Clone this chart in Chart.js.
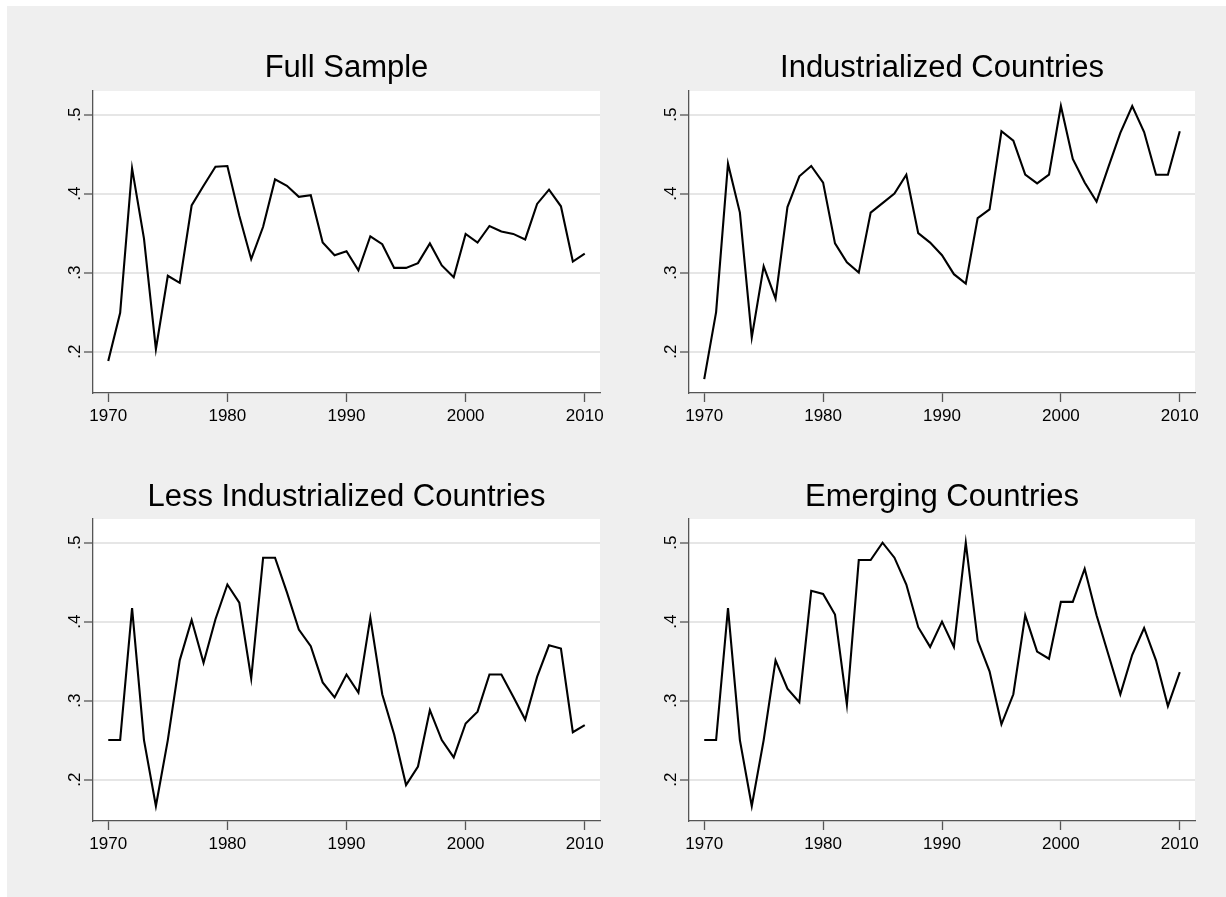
<!DOCTYPE html>
<html>
<head>
<meta charset="utf-8">
<script src="https://cdn.jsdelivr.net/npm/chart.js@4.4.1/dist/chart.umd.min.js"></script>
<style>
  html, body { margin: 0; padding: 0; background: #fff; }
  #frame { position: absolute; left: 7px; top: 6px; width: 1219px; height: 891px; background: #efefef; }
  canvas { position: absolute; }
</style>
</head>
<body>
<div id="frame"></div>
<canvas id="c1" width="570" height="403" style="left:43px;top:30px;width:570px;height:403px"></canvas>
<canvas id="c2" width="570" height="403" style="left:639px;top:30px;width:570px;height:403px"></canvas>
<canvas id="c3" width="570" height="401" style="left:43px;top:460px;width:570px;height:401px"></canvas>
<canvas id="c4" width="570" height="401" style="left:639px;top:460px;width:570px;height:401px"></canvas>
<script>
// Data
const years = [1970, 1971, 1972, 1973, 1974, 1975, 1976, 1977, 1978, 1979,
               1980, 1981, 1982, 1983, 1984, 1985, 1986, 1987, 1988, 1989,
               1990, 1991, 1992, 1993, 1994, 1995, 1996, 1997, 1998, 1999,
               2000, 2001, 2002, 2003, 2004, 2005, 2006, 2007, 2008, 2009, 2010];

const fullSample = [0.188, 0.249, 0.432, 0.343, 0.203, 0.296, 0.287, 0.385, 0.410, 0.434,
                    0.435, 0.372, 0.317, 0.358, 0.418, 0.410, 0.396, 0.398, 0.338, 0.322,
                    0.327, 0.303, 0.346, 0.336, 0.306, 0.306, 0.312, 0.337, 0.309, 0.294,
                    0.349, 0.338, 0.359, 0.352, 0.349, 0.342, 0.387, 0.405, 0.384, 0.314, 0.324];

const industrialized = [0.165, 0.250, 0.438, 0.376, 0.218, 0.308, 0.267, 0.383, 0.422, 0.435,
                        0.414, 0.337, 0.313, 0.300, 0.376, 0.388, 0.400, 0.424, 0.350, 0.338,
                        0.322, 0.298, 0.286, 0.369, 0.380, 0.479, 0.467, 0.424, 0.413, 0.424,
                        0.511, 0.444, 0.414, 0.390, 0.434, 0.477, 0.511, 0.478, 0.424, 0.424, 0.479];

const lessIndustrialized = [0.250, 0.250, 0.417, 0.250, 0.1665, 0.250, 0.351, 0.402, 0.348, 0.403,
                            0.447, 0.424, 0.328, 0.481, 0.481, 0.437, 0.390, 0.369, 0.323, 0.304,
                            0.333, 0.310, 0.405, 0.308, 0.257, 0.193, 0.2165, 0.288, 0.250, 0.228,
                            0.271, 0.286, 0.333, 0.333, 0.305, 0.276, 0.330, 0.370, 0.366, 0.260, 0.269];

const emerging = [0.250, 0.250, 0.417, 0.250, 0.1665, 0.250, 0.351, 0.315, 0.298, 0.439,
                  0.435, 0.409, 0.295, 0.478, 0.478, 0.500, 0.481, 0.447, 0.393, 0.368,
                  0.400, 0.368, 0.500, 0.376, 0.337, 0.270, 0.308, 0.408, 0.362, 0.353,
                  0.425, 0.425, 0.467, 0.408, 0.358, 0.308, 0.358, 0.392, 0.351, 0.293, 0.336];

const titles = ['Full Sample', 'Industrialized Countries', 'Less Industrialized Countries', 'Emerging Countries'];
const xTicks = [1970, 1980, 1990, 2000, 2010];
const yTicks = [0.2, 0.3, 0.4, 0.5];
const yTickLabels = ['.2', '.3', '.4', '.5'];

const FONT = "'Liberation Sans', Arial, sans-serif";
const AXIS = '#555555';

// white plot region like Stata's plotregion
const plotBg = {
    id: 'plotBg',
    beforeDraw(chart) {
        const a = chart.chartArea;
        const ctx = chart.ctx;
        ctx.save();
        ctx.fillStyle = '#ffffff';
        ctx.fillRect(a.left, a.top, a.right - a.left, a.bottom - a.top);
        ctx.restore();
    }
};

function makeChart(id, title, values, padRight, titlePad) {
    new Chart(document.getElementById(id), {
        type: 'line',
        data: {
            datasets: [{
                data: years.map((y, i) => ({ x: y, y: values[i] })),
                borderColor: '#000',
                borderWidth: 2.1,
                pointRadius: 0,
                tension: 0,
                fill: false
            }]
        },
        options: {
            responsive: false,
            animation: false,
            layout: { padding: { left: 0, right: padRight, top: 0, bottom: 0 } },
            plugins: {
                legend: { display: false },
                tooltip: { enabled: false },
                title: {
                    display: true,
                    text: title,
                    fullSize: false,
                    color: '#000',
                    font: { family: FONT, size: 31, weight: 'normal', lineHeight: 1.2 },
                    padding: titlePad
                }
            },
            scales: {
                x: {
                    type: 'linear',
                    min: 1968.72,
                    max: 2011.28,
                    afterBuildTicks: s => { s.ticks = xTicks.map(v => ({ value: v })); },
                    afterFit: s => { s.height = 40; },
                    grid: { drawOnChartArea: false, drawTicks: true, tickLength: 9, tickColor: AXIS, tickWidth: 1.3 },
                    border: { display: true, color: AXIS, width: 1.3 },
                    ticks: {
                        color: '#000',
                        padding: 4,
                        maxRotation: 0,
                        font: { family: FONT, size: 17 },
                        callback: v => String(v)
                    }
                },
                y: {
                    min: 0.1475,
                    max: 0.53,
                    afterBuildTicks: s => { s.ticks = yTicks.map(v => ({ value: v })); },
                    afterFit: s => { s.width = 50; },
                    grid: { color: '#e6e6e6', lineWidth: 2, drawTicks: true, tickLength: 9, tickColor: AXIS, tickWidth: 1.3 },
                    border: { display: true, color: AXIS, width: 1.3 },
                    ticks: {
                        color: '#000',
                        padding: 2,
                        minRotation: 90,
                        maxRotation: 90,
                        crossAlign: 'center',
                        font: { family: FONT, size: 17 },
                        callback: v => yTickLabels[yTicks.indexOf(Math.round(v * 10) / 10)]
                    }
                }
            }
        },
        plugins: [plotBg]
    });
}

makeChart('c1', titles[0], fullSample, 13, { top: 20, bottom: 3.8 });
makeChart('c2', titles[1], industrialized, 14, { top: 20, bottom: 3.8 });
makeChart('c3', titles[2], lessIndustrialized, 13, { top: 19, bottom: 2.8 });
makeChart('c4', titles[3], emerging, 14, { top: 19, bottom: 2.8 });
</script>
</body>
</html>
